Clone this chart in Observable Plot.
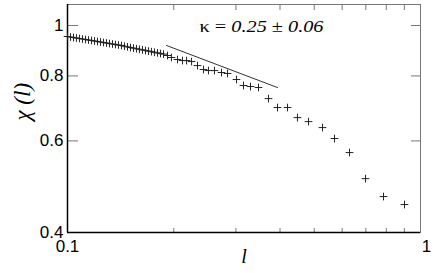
<!DOCTYPE html>
<html><head><meta charset="utf-8">
<script src="https://cdn.jsdelivr.net/npm/d3@7"></script>
<script src="https://cdn.jsdelivr.net/npm/@observablehq/plot@0.6"></script>
<style>body{margin:0;background:#fff} #chart{width:436px;height:273px}</style>
</head><body><div id="chart"></div>
<script>
// data
const lValues = [
  0.1000, 0.1020, 0.1040, 0.1060, 0.1081, 0.1103, 0.1125, 0.1147, 0.1170, 0.1193,
  0.1216, 0.1240, 0.1265, 0.1290, 0.1315, 0.1341, 0.1367, 0.1394, 0.1422, 0.1450,
  0.1479, 0.1508, 0.1538, 0.1568, 0.1599, 0.1631, 0.1663, 0.1696, 0.1729, 0.1763,
  0.1799, 0.1834, 0.1871,
  0.1920, 0.1970, 0.2049, 0.2117, 0.2174, 0.2246, 0.2335, 0.2428, 0.2508, 0.2608,
  0.2731, 0.2840, 0.3011, 0.3152, 0.3299, 0.3476, 0.3710, 0.3935, 0.4201, 0.4482,
  0.4817, 0.5278, 0.5706, 0.6294, 0.6985, 0.7856, 0.9010
];
const chiValues = [
  0.9525, 0.9504, 0.9482, 0.9462, 0.9441, 0.9420, 0.9399, 0.9378, 0.9358, 0.9337,
  0.9316, 0.9296, 0.9275, 0.9255, 0.9234, 0.9214, 0.9194, 0.9173, 0.9153, 0.9124,
  0.9099, 0.9071, 0.9047, 0.9023, 0.8999, 0.8977, 0.8953, 0.8929, 0.8906, 0.8883,
  0.8858, 0.8834, 0.8810,
  0.8756, 0.8679, 0.8603, 0.8563, 0.8563, 0.8525, 0.8375, 0.8229, 0.8192, 0.8192,
  0.8121, 0.8087, 0.7873, 0.7667, 0.7633, 0.7599, 0.7236, 0.6955, 0.6955, 0.6652,
  0.6535, 0.6364, 0.6064, 0.5698, 0.5077, 0.4690, 0.4527
];
const fitL = [0.1908, 0.3935];
const fitChi = [0.9153, 0.7599];
const xLabelTicks = [0.1];
const xEndTicks = [1];
const xMinorTicks = [0.2, 0.3, 0.4, 0.5, 0.6, 0.7, 0.8, 0.9];
const yLabelTicks = [0.4, 0.6, 0.8, 1];
const yTicks = [0.6, 0.8, 1];
const kappaLabel = "κ = 0.25 ± 0.06";
const yTitle = "χ (l)";
const xTitle = "l";

const points = lValues.map((l, i) => ({l, chi: chiValues[i]}));
const fit = fitL.map((l, i) => ({l, chi: fitChi[i]}));
const serif = "'Liberation Serif', 'DejaVu Serif', serif";
const fmt = d => String(d);

const svg = Plot.plot({
  width: 436, height: 273,
  marginLeft: 67, marginRight: 16, marginTop: 4, marginBottom: 41,
  x: {type: "log", domain: [0.1, 1], label: null},
  y: {type: "log", domain: [0.4, 1.0975], label: null},
  style: {fontFamily: "'Liberation Sans', Arial, sans-serif", fontSize: "17px", background: "white", color: "black"},
  marks: [
    Plot.frame({stroke: "#777"}),
    Plot.axisX(xMinorTicks, {anchor: "bottom", tickSize: -4, tickFormat: () => "", stroke: "#777", label: null}),
    Plot.axisX(xMinorTicks, {anchor: "top", tickSize: -5, tickFormat: () => "", stroke: "#777", label: null}),
    Plot.axisY(yTicks, {anchor: "left", tickSize: -11, tickFormat: () => "", stroke: "#777", label: null}),
    Plot.axisY(yTicks, {anchor: "right", tickSize: -10, tickFormat: () => "", stroke: "#777", label: null}),
    Plot.axisY(yLabelTicks, {anchor: "left", tickSize: 0, tickPadding: 4, tickFormat: fmt, fill: "black", label: null}),
    Plot.axisX(xLabelTicks, {anchor: "bottom", tickSize: 0, tickPadding: 7, tickFormat: fmt, fill: "black", label: null}),
    Plot.axisX(xEndTicks, {anchor: "bottom", tickSize: 0, tickPadding: 7, dx: 6, tickFormat: fmt, fill: "black", label: null}),
    Plot.ruleX([0.1], {stroke: "black", strokeWidth: 1.5}),
    Plot.ruleY([0.4], {stroke: "black", strokeWidth: 1.5}),
    Plot.line(fit, {x: "l", y: "chi", stroke: "#333", strokeWidth: 1}),
    Plot.dot(points, {x: "l", y: "chi", symbol: "plus", r: 2.6, stroke: "#222", strokeWidth: 1}),
    Plot.text([kappaLabel], {frameAnchor: "top", dx: 17.5, dy: 16, fontFamily: serif, fontSize: 16, fill: "black"}),
    Plot.text([yTitle], {frameAnchor: "left", dx: -45, dy: 2, rotate: -90, fontFamily: serif, fontSize: 23, fontStyle: "italic", fill: "black"}),
    Plot.text([xTitle], {frameAnchor: "bottom", dx: 0, dy: 30, fontFamily: serif, fontSize: 20, fontStyle: "italic", fill: "black"})
  ]
});
document.getElementById("chart").appendChild(svg);

// rich text for the kappa annotation
d3.select(svg).selectAll("text").filter(function() { return this.textContent === kappaLabel; })
  .each(function() {
    const t = d3.select(this);
    t.text(null);
    t.append("tspan").text("κ = ");
    t.append("tspan").attr("font-style", "italic").text("0.25");
    t.append("tspan").text(" ± ");
    t.append("tspan").attr("font-style", "italic").text("0.06");
    t.attr("textLength", 124).attr("lengthAdjust", "spacingAndGlyphs");
  });
</script>
</body></html>
